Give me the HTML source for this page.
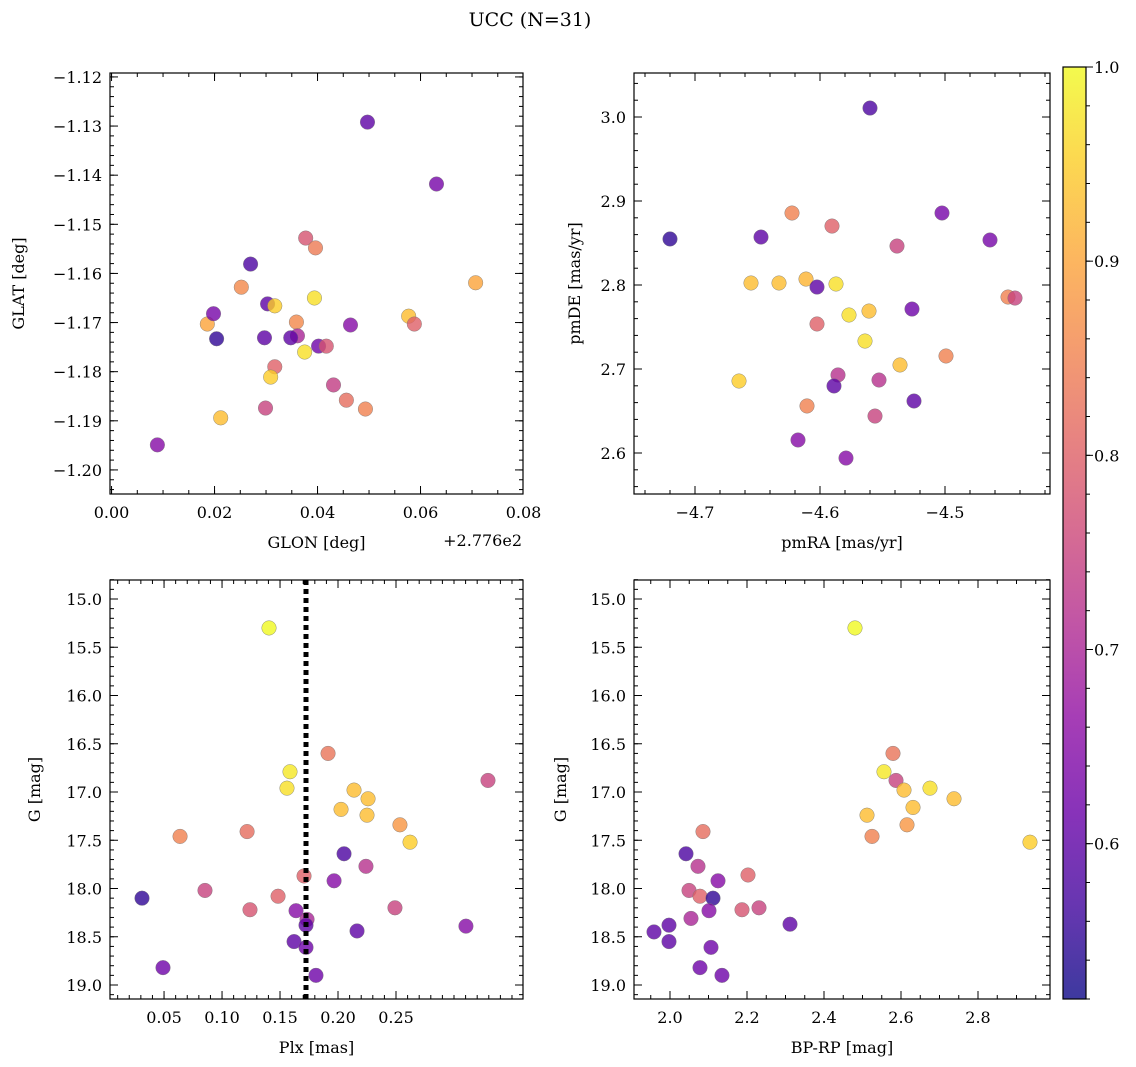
<!DOCTYPE html>
<html><head><meta charset="utf-8"><style>
body{margin:0;background:#fff}
svg{display:block;font-family:"DejaVu Serif","Liberation Serif",serif}
</style></head><body>
<svg id="c" width="1136" height="1067" viewBox="0 0 1136 1067" xmlns="http://www.w3.org/2000/svg">
<text x="530" y="26" font-size="19" text-anchor="middle">UCC (N=31)</text>
</svg>
<script>
// ---- data ----
const glon=[0.0497,0.0631,0.0377,0.0396,0.0270,0.0252,0.0707,0.0394,0.0303,0.0317,0.0186,0.0198,0.0359,0.0577,0.0588,0.0464,0.0361,0.0204,0.0297,0.0348,0.0402,0.0417,0.0375,0.0317,0.0309,0.0431,0.0456,0.0493,0.0299,0.0212,0.0089];
const glat=[-1.1292,-1.1418,-1.1528,-1.1548,-1.1581,-1.1628,-1.1619,-1.1650,-1.1662,-1.1666,-1.1703,-1.1682,-1.1699,-1.1687,-1.1703,-1.1705,-1.1727,-1.1733,-1.1731,-1.1731,-1.1748,-1.1748,-1.1760,-1.1790,-1.1811,-1.1827,-1.1858,-1.1876,-1.1874,-1.1894,-1.1949];
const probTL=[0.6,0.63,0.78,0.84,0.58,0.86,0.9,0.97,0.6,0.95,0.9,0.63,0.86,0.93,0.8,0.65,0.7,0.55,0.6,0.6,0.62,0.78,0.97,0.8,0.95,0.74,0.82,0.85,0.75,0.93,0.65];
const pmra=[-4.56,-4.72,-4.6472,-4.6224,-4.5904,-4.5384,-4.5024,-4.464,-4.6328,-4.6112,-4.6024,-4.5872,-4.6552,-4.6024,-4.5768,-4.5608,-4.5264,-4.4496,-4.444,-4.564,-4.4992,-4.536,-4.6648,-4.5856,-4.5528,-4.5888,-4.6104,-4.5248,-4.556,-4.6176,-4.5792];
const pmde=[3.0107,2.8548,2.8571,2.8857,2.8702,2.8464,2.8857,2.8536,2.8024,2.8071,2.7976,2.8012,2.8024,2.7536,2.7643,2.7690,2.7714,2.7857,2.7845,2.7333,2.7155,2.7048,2.6857,2.6929,2.6869,2.6798,2.6560,2.6619,2.6440,2.6155,2.5940];
const probTR=[0.58,0.55,0.6,0.85,0.8,0.75,0.63,0.63,0.93,0.92,0.6,0.97,0.93,0.8,0.97,0.93,0.62,0.85,0.75,0.97,0.85,0.93,0.95,0.72,0.72,0.6,0.85,0.6,0.75,0.65,0.65];
const plx=[0.1405,0.1914,0.1586,0.1560,0.2138,0.3293,0.2259,0.2026,0.2250,0.2534,0.2621,0.0638,0.1216,0.2052,0.1707,0.1966,0.2241,0.0853,0.0310,0.1483,0.1241,0.1638,0.1733,0.2491,0.1724,0.2164,0.3103,0.1621,0.1724,0.1810,0.0491];
const gmagBL=[15.30,16.60,16.79,16.96,16.98,16.88,17.07,17.18,17.24,17.34,17.52,17.46,17.41,17.64,17.87,17.92,17.77,18.02,18.10,18.08,18.22,18.23,18.32,18.20,18.38,18.44,18.39,18.55,18.61,18.90,18.82];
const probBL=[1.0,0.83,0.98,0.97,0.93,0.75,0.93,0.93,0.93,0.88,0.95,0.85,0.82,0.58,0.8,0.65,0.72,0.75,0.55,0.8,0.78,0.65,0.7,0.75,0.6,0.6,0.65,0.6,0.62,0.62,0.62];
const plxMean=0.1724;
const bprp=[2.4805,2.5792,2.5558,2.587,2.6753,2.6078,2.7377,2.6312,2.5117,2.6156,2.5247,2.935,2.0857,2.0416,2.0727,2.2026,2.1247,2.0494,2.0779,2.1117,2.187,2.2312,2.1013,2.0545,1.9974,2.3117,1.9584,1.9974,2.1065,2.0779,2.135];
const gmagBR=[15.30,16.60,16.79,16.88,16.96,16.98,17.07,17.16,17.24,17.34,17.46,17.52,17.41,17.64,17.77,17.86,17.92,18.02,18.08,18.10,18.22,18.20,18.23,18.31,18.38,18.37,18.45,18.55,18.61,18.82,18.90];
const probBR=[1.0,0.83,0.98,0.75,0.97,0.93,0.93,0.93,0.93,0.88,0.85,0.95,0.82,0.58,0.72,0.8,0.65,0.75,0.8,0.55,0.78,0.75,0.65,0.7,0.6,0.6,0.6,0.6,0.62,0.62,0.62];
const glonTicks=[0.00,0.02,0.04,0.06,0.08];
const glatTicks=[-1.12,-1.13,-1.14,-1.15,-1.16,-1.17,-1.18,-1.19,-1.20];
const pmraTicks=[-4.7,-4.6,-4.5];
const pmdeTicks=[3.0,2.9,2.8,2.7,2.6];
const plxTicks=[0.05,0.10,0.15,0.20,0.25];
const gTicks=[15.0,15.5,16.0,16.5,17.0,17.5,18.0,18.5,19.0];
const bprpTicks=[2.0,2.2,2.4,2.6,2.8];
const cbTicks=[0.6,0.7,0.8,0.9,1.0];
const cMin=0.52,cMax=1.0;

const NS="http://www.w3.org/2000/svg";
const svg=document.getElementById('c');
function mk(t,a,p){const e=document.createElementNS(NS,t);for(const k in a)e.setAttribute(k,a[k]);(p||svg).appendChild(e);return e;}
const pl=[[13,8,135],[65,4,157],[106,0,168],[143,13,164],[177,42,144],[204,71,120],[225,100,98],[242,132,75],[252,166,54],[252,206,37],[240,249,33]];
function plasma(t){t=Math.max(0,Math.min(1,t))*10;const i=Math.min(9,Math.floor(t)),f=t-i;const a=pl[i],b=pl[i+1];
 return 'rgb('+[0,1,2].map(k=>Math.round(a[k]+(b[k]-a[k])*f)).join(',')+')';}
function fmt(v,d){const s=v.toFixed(d);return s.replace('-','\u2212');}

function panel(o){
 const g=mk('g',{});
 
 
 const sx=v=>o.x0+(v-o.xmin)/(o.xmax-o.xmin)*(o.x1-o.x0);
 const sy=o.inv?(v=>o.y0+(v-o.ymin)/(o.ymax-o.ymin)*(o.y1-o.y0)):(v=>o.y0+(o.ymax-v)/(o.ymax-o.ymin)*(o.y1-o.y0));
 const tg=mk('g',{stroke:'#000','stroke-width':1},g);
 function xt(v,len){const x=sx(v);if(x<o.x0-0.5||x>o.x1+0.5)return;mk('line',{x1:x,x2:x,y1:o.y1,y2:o.y1-len},tg);mk('line',{x1:x,x2:x,y1:o.y0,y2:o.y0+len},tg);}
 function yt(v,len){const y=sy(v);if(y<o.y0-0.5||y>o.y1+0.5)return;mk('line',{x1:o.x0,x2:o.x0+len,y1:y,y2:y},tg);mk('line',{x1:o.x1,x2:o.x1-len,y1:y,y2:y},tg);}
 const xs=o.xt[1]-o.xt[0], ys=Math.abs(o.yt[1]-o.yt[0]);
 const xa=Math.min(...o.xt),xb=Math.max(...o.xt),ya=Math.min(...o.yt),yb=Math.max(...o.yt);
 for(let k=-2*o.xn;k<=((xb-xa)/xs+2)*o.xn;k++)xt(xa+k*xs/o.xn,4);
 for(let k=-2*o.yn;k<=((yb-ya)/ys+2)*o.yn;k++)yt(ya+k*ys/o.yn,4);
 o.xt.forEach(v=>{xt(v,8);const x=sx(v);const t=mk('text',{x:x,y:o.y1+24,'font-size':16,'text-anchor':'middle'},g);t.textContent=fmt(v,o.xd);});
 o.yt.forEach(v=>{yt(v,8);const y=sy(v);const t=mk('text',{x:o.x0-8,y:y+6,'font-size':16,'text-anchor':'end'},g);t.textContent=fmt(v,o.yd);});
 o.px.forEach((v,i)=>{const c=mk('circle',{cx:sx(v),cy:sy(o.py[i]),r:7.3,fill:plasma((o.pc[i]-cMin)/(cMax-cMin)),'fill-opacity':0.8,stroke:'#777','stroke-width':0.5,'stroke-opacity':0.8},g);
  
  });
 if(o.vline!==undefined){const l=mk('line',{x1:sx(o.vline),x2:sx(o.vline),y1:o.y0,y2:o.y1,stroke:'#000','stroke-width':5,'stroke-dasharray':'5,4'},g);
  
  }
 mk('rect',{x:o.x0,y:o.y0,width:o.x1-o.x0,height:o.y1-o.y0,fill:'none',stroke:'#000','stroke-width':1.2},g);
 const xl=mk('text',{x:(o.x0+o.x1)/2,y:o.y1+54,'font-size':16,'text-anchor':'middle'},g);xl.textContent=o.xl;
 
 const yx=o.ylx,yy=(o.y0+o.y1)/2;
 const yl=mk('text',{x:yx,y:yy,'font-size':16,'text-anchor':'middle',transform:'rotate(-90 '+yx+' '+yy+')'},g);yl.textContent=o.yl;
 
 return g;
}
panel({name:'glon-glat-panel',x0:110,x1:523,y0:73,y1:494,xmin:-0.0003,xmax:0.0799,ymin:-1.2049,ymax:-1.1192,xt:glonTicks,yt:glatTicks,xn:4,yn:5,xd:2,yd:2,px:glon,py:glat,pc:probTL,xl:'GLON [deg]',yl:'GLAT [deg]',ylx:24});
const off=mk('text',{x:522,y:546,'font-size':16,'text-anchor':'end'});off.textContent='+2.776e2';

panel({name:'pm-panel',x0:634,x1:1050,y0:73,y1:494,xmin:-4.7488,xmax:-4.416,ymin:2.5512,ymax:3.0524,xt:pmraTicks,yt:pmdeTicks,xn:5,yn:5,xd:1,yd:1,px:pmra,py:pmde,pc:probTR,xl:'pmRA [mas/yr]',yl:'pmDE [mas/yr]',ylx:580});
panel({name:'plx-g-panel',x0:110,x1:523,y0:580,y1:999,xmin:0.0034,xmax:0.3595,ymin:14.803,ymax:19.145,inv:true,xt:plxTicks,yt:gTicks,xn:5,yn:5,xd:2,yd:1,px:plx,py:gmagBL,pc:probBL,vline:plxMean,xl:'Plx [mas]',yl:'G [mag]',ylx:40});
panel({name:'cmd-panel',x0:634,x1:1050,y0:580,y1:999,xmin:1.9065,xmax:2.987,ymin:14.803,ymax:19.145,inv:true,xt:bprpTicks,yt:gTicks,xn:4,yn:5,xd:1,yd:1,px:bprp,py:gmagBR,pc:probBR,xl:'BP-RP [mag]',yl:'G [mag]',ylx:566});
// colorbar
const cb=mk('g',{});


const defs=mk('defs',{},cb);const lg=mk('linearGradient',{id:'gr',x1:0,y1:1,x2:0,y2:0},defs);
for(let i=0;i<=10;i++)mk('stop',{offset:i/10,'stop-color':plasma(i/10),'stop-opacity':0.8},lg);
const cx0=1063,cx1=1086,cy0=67,cy1=999;
mk('rect',{x:cx0,y:cy0,width:cx1-cx0,height:cy1-cy0,fill:'url(#gr)',stroke:'#000','stroke-width':1.2},cb);
const cy=v=>cy1-(v-cMin)/(cMax-cMin)*(cy1-cy0);
for(let k=0;k<=24;k++){const y=cy(0.52+k*0.02);mk('line',{x1:cx1,x2:cx1+4,y1:y,y2:y,stroke:'#000'},cb);}
cbTicks.forEach(v=>{const y=cy(v);mk('line',{x1:cx1,x2:cx1+7,y1:y,y2:y,stroke:'#000'},cb);
 const t=mk('text',{x:cx1+8,y:y+6,'font-size':16},cb);t.textContent=v.toFixed(1);
 });
</script>
</body></html>
